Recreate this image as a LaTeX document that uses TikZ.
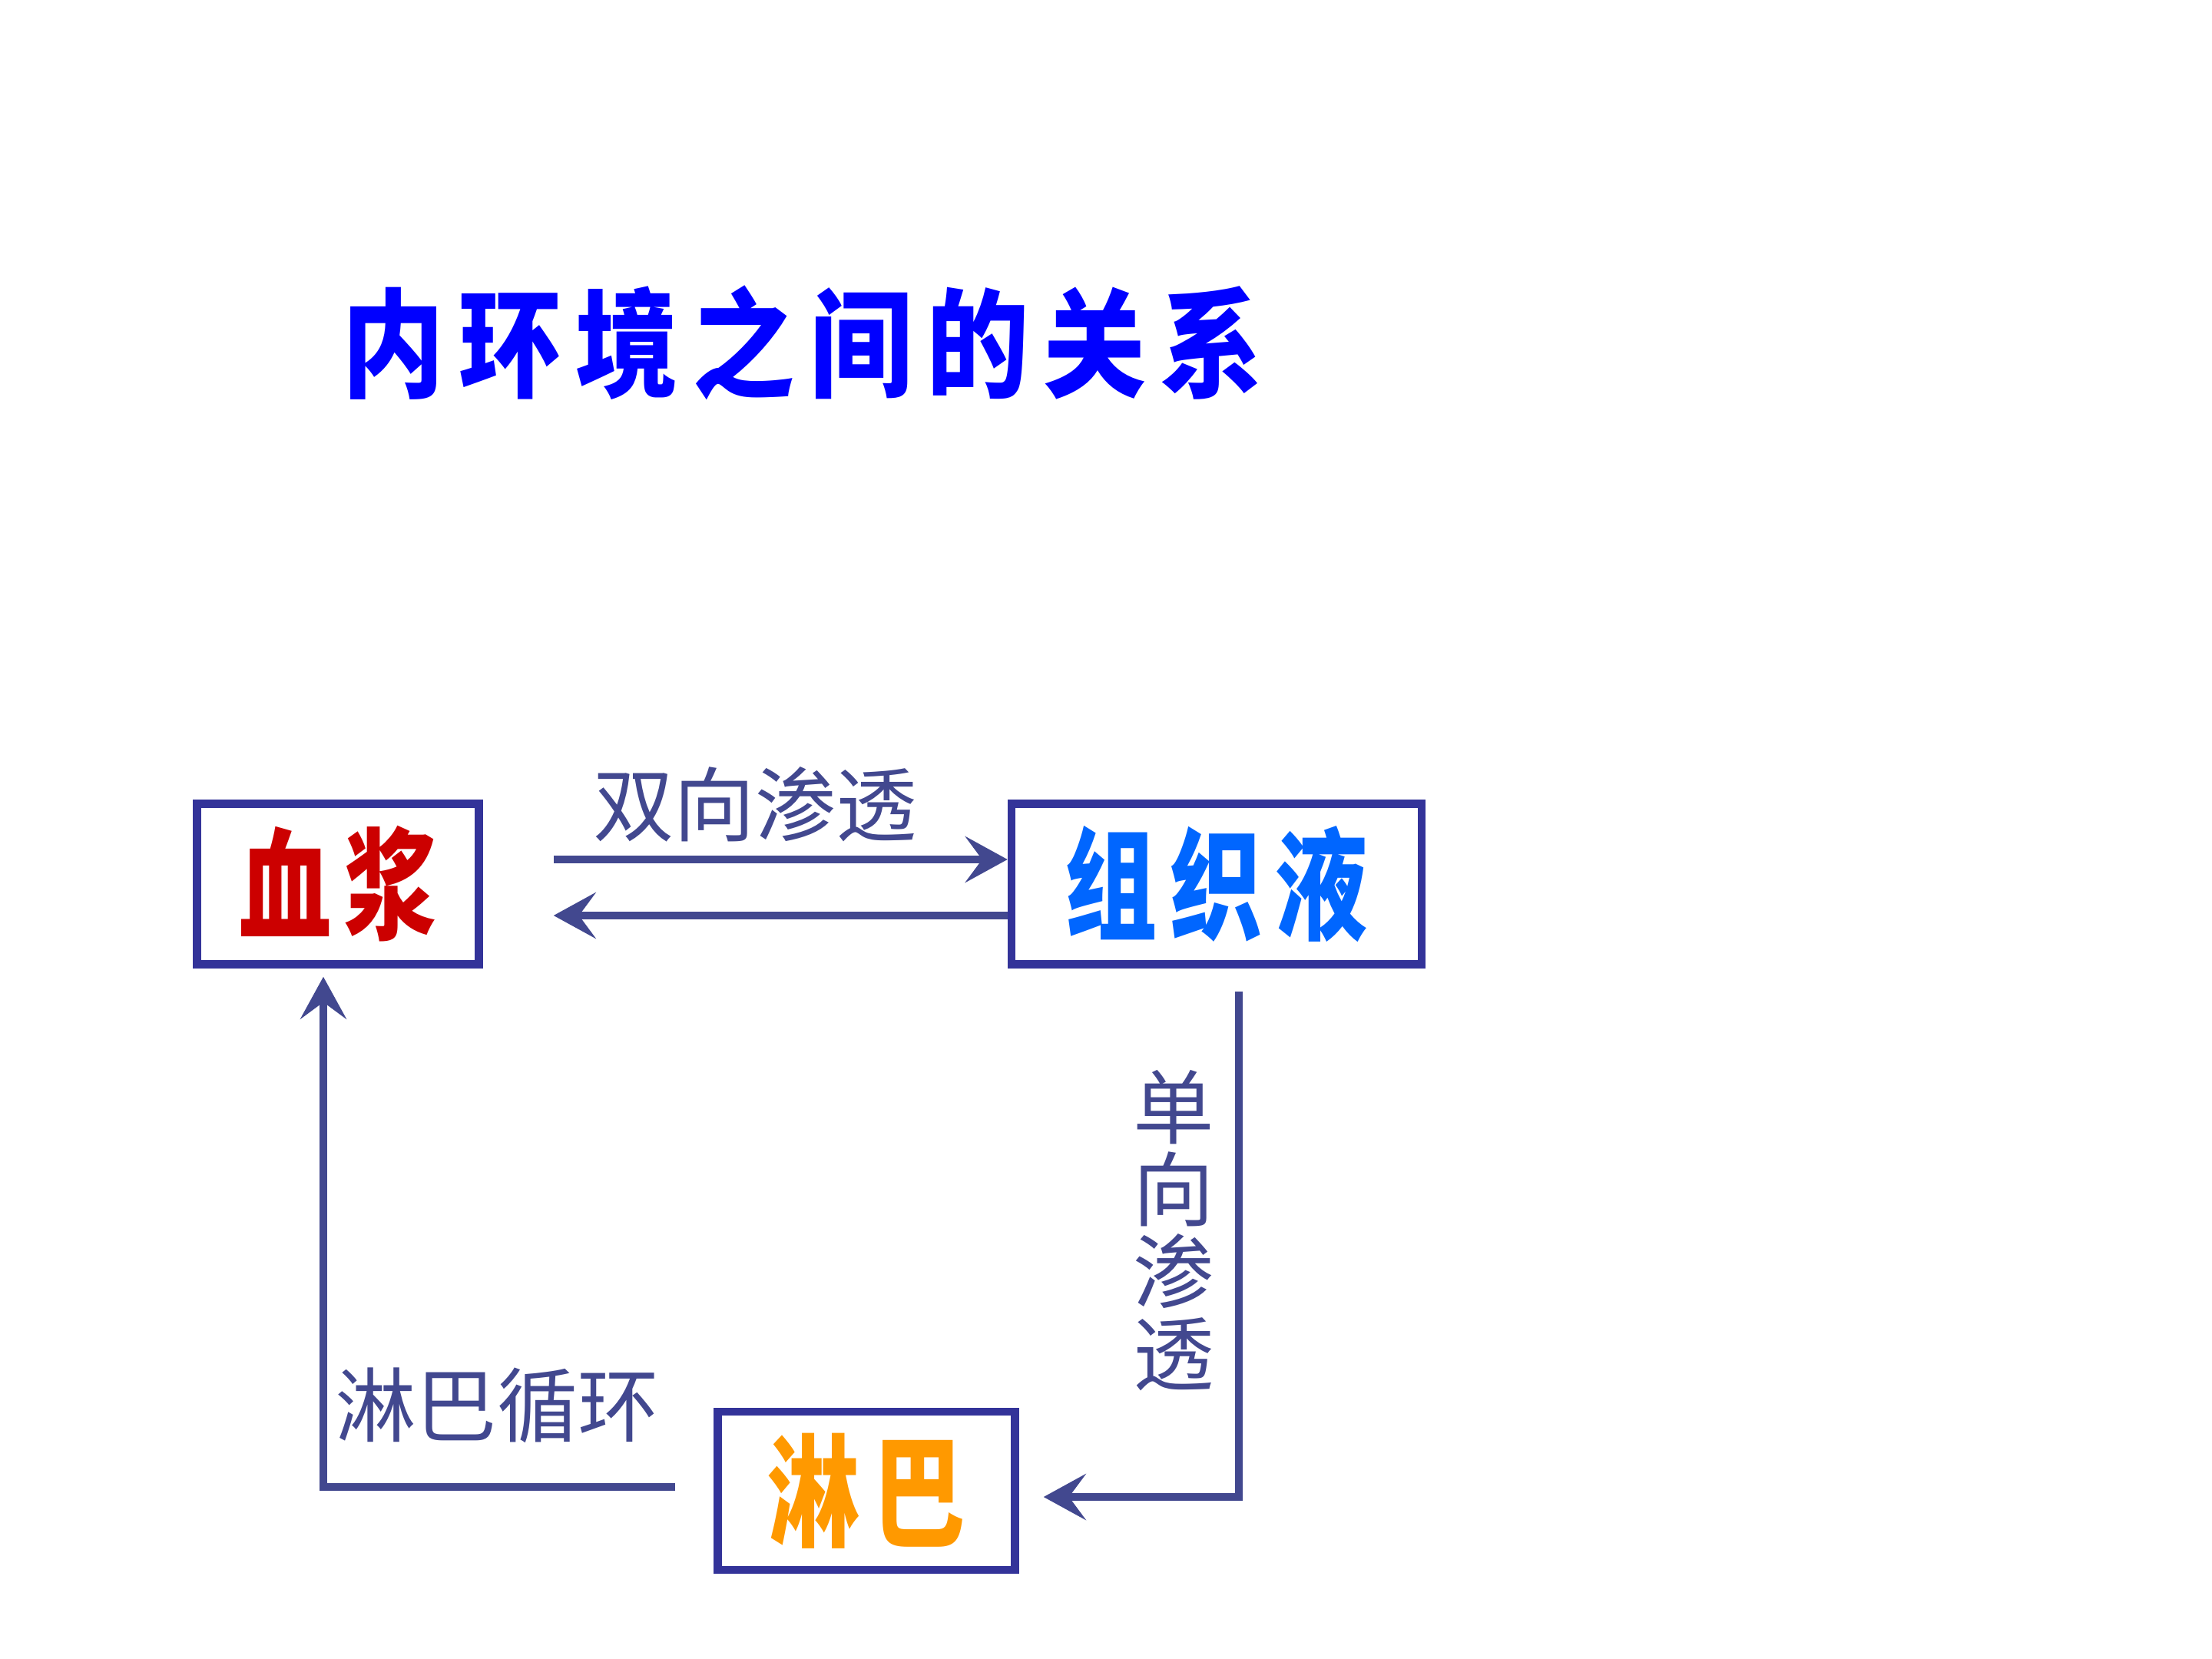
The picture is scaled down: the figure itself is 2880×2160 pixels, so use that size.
\documentclass[tikz,border=0pt]{standalone}
\usepackage{fontspec}
\setmainfont{Noto Sans CJK SC}
\usetikzlibrary{arrows.meta}
\definecolor{boxblue}{RGB}{51,51,153}
\definecolor{flowblue}{RGB}{66,72,143}
\definecolor{titleblue}{RGB}{0,0,255}
\definecolor{xjred}{RGB}{204,0,0}
\definecolor{zzyblue}{RGB}{0,102,255}
\definecolor{lbgold}{RGB}{255,153,0}
\newcommand{\tallword}[1]{\raisebox{-0.9mm}{\scalebox{0.95}[1.25]{#1}}}
\tikzstyle{box}=[%
	draw=boxblue, line width=3pt, fill=white, inner sep=0pt,
	font=\fontsize{36}{36}\selectfont\bfseries\addfontfeature{LetterSpace=14}
]
\tikzstyle{flow}=[%
	draw=flowblue, line width=3pt,
	-{Stealth[length=5.5mm, width=6mm, inset=2.2mm]}
]
\tikzstyle{tag}=[text=flowblue, inner sep=0pt, font=\fontsize{30}{30}\selectfont]

\begin{document}
\begin{tikzpicture}[x=0.1mm, y=-0.1mm]
	\fill[white] (0,0) rectangle (2880,2160);
	\useasboundingbox (0,0) rectangle (2880,2160);

	\node[text=titleblue, font=\fontsize{38}{38}\selectfont\bfseries\addfontfeature{LetterSpace=14}] (ttl) at (1045,446) {\scalebox{1}[1.15]{内环境之间的关系}};

	\node[box, text=xjred, minimum width=36.7mm, minimum height=20.9mm] (xj) at (440,1151) {\tallword{血浆}};
	\node[box, text=zzyblue, minimum width=53.4mm, minimum height=20.9mm] (zzy) at (1584,1151) {\tallword{组织液}};
	\node[box, text=lbgold, minimum width=38.7mm, minimum height=20.6mm] (lb) at (1128,1941) {\tallword{淋巴}};

	% between blood plasma and tissue fluid
	\coordinate (a1) at ([shift={(92,-32)}]xj.east);
	\coordinate (a2) at ([shift={(92,41)}]xj.east);
	\draw[flow] (a1) -- (a1 -| zzy.west);
	\draw[flow] (a2 -| zzy.west) -- (a2);
	\node[tag] (both) at (983,1047) {双向渗透};

	% tissue fluid down to lymph
	\coordinate (r1) at ([shift={(29,30)}]zzy.south);
	\coordinate (r2) at ([shift={(32,8)}]lb.east);
	\draw[flow] (r1) |- (r2);
	\node[tag, align=center, font=\fontsize{30}{30.5}\selectfont] (one) at (1528,1602) {单\\向\\渗\\透};

	% lymph back to blood plasma
	\coordinate (l1) at ([shift={(-50,-5)}]lb.west);
	\coordinate (l2) at ([shift={(-19,11)}]xj.south);
	\draw[flow] (l1) -| (l2);
	\node[tag] (loop) at (647,1830) {淋巴循环};
\end{tikzpicture}
\end{document}
